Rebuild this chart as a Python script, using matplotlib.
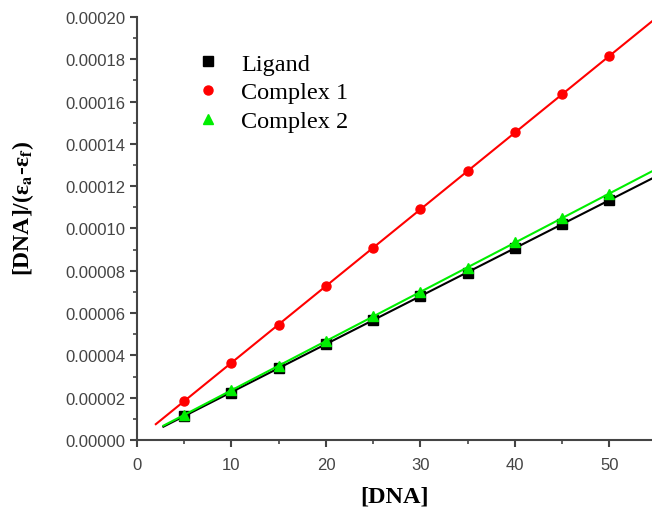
import numpy as np
import matplotlib
matplotlib.use('Agg')
import matplotlib.pyplot as plt
from matplotlib.ticker import MultipleLocator, FormatStrFormatter

plt.rcParams['mathtext.fontset'] = 'stix'

dna = [5, 10, 15, 20, 25, 30, 35, 40, 45, 50]
ligand = [1.15e-5, 2.25e-5, 3.4e-5, 4.55e-5, 5.68e-5, 6.8e-5, 7.9e-5, 9.1e-5, 1.02e-4, 1.135e-4]
complex1 = [1.85e-5, 3.65e-5, 5.45e-5, 7.3e-5, 9.1e-5, 1.09e-4, 1.27e-4, 1.455e-4, 1.635e-4, 1.815e-4]
complex2 = [1.2e-5, 2.35e-5, 3.52e-5, 4.68e-5, 5.85e-5, 7.0e-5, 8.15e-5, 9.35e-5, 1.05e-4, 1.165e-4]

fig = plt.figure(figsize=(6.52, 5.10), dpi=100)
ax = fig.add_axes([0.21, 0.135, 0.79, 0.83])

series = [
    (ligand, 'black', 's', 'Ligand', 2.8),
    (complex1, 'red', 'o', 'Complex 1', 2.0),
    (complex2, '#00ee00', '^', 'Complex 2', 2.8),
]

for vals, col, mk, lab, x0 in series:
    ax.plot(dna, vals, linestyle='none', marker=mk, color=col, markersize=6.5, label=lab)
    k, b = np.polyfit(dna, vals, 1)
    xs = np.array([x0, 55])
    ax.plot(xs, k * xs + b, color=col, linewidth=1.5)

ax.set_xlim(0, 54.5)
ax.set_ylim(0, 0.0002)
ax.spines['top'].set_visible(False)
ax.spines['right'].set_visible(False)
ax.spines['left'].set_linewidth(1.5)
ax.spines['bottom'].set_linewidth(1.5)
ax.spines['left'].set_color('#444444')
ax.spines['bottom'].set_color('#444444')

ax.xaxis.set_major_locator(MultipleLocator(10))
ax.xaxis.set_minor_locator(MultipleLocator(5))
ax.yaxis.set_major_locator(MultipleLocator(0.00002))
ax.yaxis.set_minor_locator(MultipleLocator(0.00001))
ax.yaxis.set_major_formatter(FormatStrFormatter('%.5f'))
ax.tick_params(which='major', direction='out', length=5, width=1.5, color='#444444',
               labelsize=12, labelcolor='#444444')
ax.tick_params(axis='x', which='major', pad=7)
ax.tick_params(which='minor', direction='out', length=3, width=1.2, color='#444444')
for t in ax.get_xticklabels() + ax.get_yticklabels():
    t.set_family('Liberation Sans')

ax.set_xlabel('[DNA]', family='Liberation Serif', fontweight='bold', fontsize=17.5)
ax.xaxis.set_label_coords(0.5, -0.108)
ax.set_ylabel(r'[DNA]/(ε$_\mathbf{a}$-ε$_\mathbf{f}$)', family='Liberation Serif',
              fontweight='bold', fontsize=17)
ax.yaxis.set_label_coords(-0.195, 0.55)

ax.legend(loc='upper left', bbox_to_anchor=(0.075, 0.95), frameon=False,
          prop={'family': 'Liberation Serif', 'size': 17.5}, handletextpad=0.6,
          labelspacing=0.28, handlelength=1.5, borderaxespad=0.2)

fig.savefig('out.png', dpi=100)
